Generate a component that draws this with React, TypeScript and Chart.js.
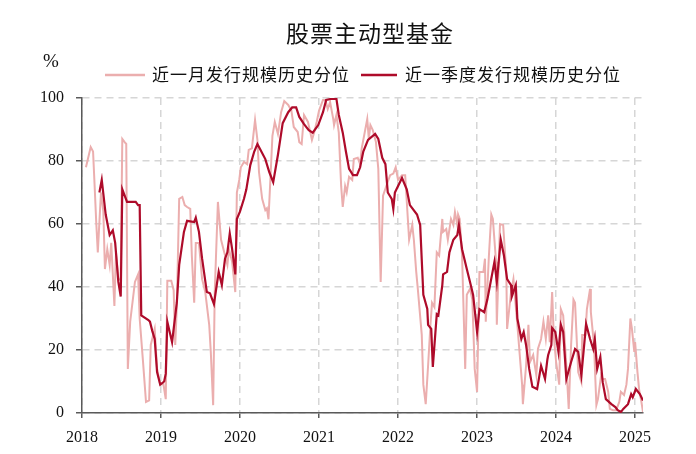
import React, { useEffect, useRef } from "react";
import { Chart, registerables } from "chart.js";

Chart.register(...registerables);

const TITLE = "股票主动型基金";
const UNIT = "%";
const SERIES_NAMES = ["近一月发行规模历史分位", "近一季度发行规模历史分位"];
const X_MIN = 2018;
const X_MAX = 2025.1;
const Y_MIN = 0;
const Y_MAX = 100;

// 近一月发行规模历史分位 (decimal year, %)
const monthX = [
  2018.05, 2018.11, 2018.14, 2018.16, 2018.18, 2018.2, 2018.24, 2018.27, 2018.29, 2018.32, 2018.35, 2018.37,
  2018.41, 2018.43, 2018.46, 2018.49, 2018.51, 2018.54, 2018.56, 2018.58, 2018.61, 2018.62, 2018.67, 2018.71,
  2018.73, 2018.77, 2018.81, 2018.85, 2018.87, 2018.92, 2018.95, 2018.99, 2019.03, 2019.06, 2019.08, 2019.13,
  2019.16, 2019.18, 2019.2, 2019.23, 2019.27, 2019.3, 2019.33, 2019.37, 2019.39, 2019.42, 2019.44, 2019.48,
  2019.52, 2019.56, 2019.61, 2019.63, 2019.66, 2019.68, 2019.72, 2019.76, 2019.8, 2019.84, 2019.86, 2019.9,
  2019.94, 2019.96, 2019.99, 2020.01, 2020.05, 2020.09, 2020.11, 2020.15, 2020.19, 2020.22, 2020.24, 2020.28,
  2020.32, 2020.34, 2020.36, 2020.38, 2020.41, 2020.44, 2020.48, 2020.52, 2020.56, 2020.61, 2020.65, 2020.68,
  2020.73, 2020.75, 2020.78, 2020.81, 2020.86, 2020.89, 2020.91, 2020.94, 2020.97, 2021.0, 2021.05, 2021.08,
  2021.11, 2021.14, 2021.18, 2021.19, 2021.22, 2021.25, 2021.28, 2021.3, 2021.33, 2021.35, 2021.38, 2021.42,
  2021.44, 2021.49, 2021.52, 2021.54, 2021.61, 2021.63, 2021.65, 2021.68, 2021.72, 2021.75, 2021.78, 2021.81,
  2021.86, 2021.9, 2021.94, 2021.97, 2022.0, 2022.05, 2022.09, 2022.14, 2022.18, 2022.2, 2022.23, 2022.25,
  2022.3, 2022.32, 2022.35, 2022.38, 2022.41, 2022.43, 2022.46, 2022.49, 2022.52, 2022.56, 2022.57, 2022.61,
  2022.63, 2022.67, 2022.7, 2022.72, 2022.75, 2022.76, 2022.78, 2022.81, 2022.85, 2022.87, 2022.91, 2022.94,
  2022.97, 2023.0, 2023.03, 2023.08, 2023.1, 2023.11, 2023.15, 2023.18, 2023.2, 2023.24, 2023.25, 2023.29,
  2023.33, 2023.37, 2023.38, 2023.43, 2023.46, 2023.51, 2023.53, 2023.57, 2023.58, 2023.62, 2023.65, 2023.67,
  2023.71, 2023.75, 2023.77, 2023.81, 2023.84, 2023.87, 2023.9, 2023.92, 2023.95, 2023.97, 2024.0, 2024.04,
  2024.06, 2024.09, 2024.13, 2024.16, 2024.19, 2024.22, 2024.24, 2024.28, 2024.32, 2024.33, 2024.37, 2024.39,
  2024.43, 2024.44, 2024.48, 2024.51, 2024.53, 2024.57, 2024.59, 2024.62, 2024.66, 2024.68, 2024.72, 2024.76,
  2024.8, 2024.82, 2024.86, 2024.89, 2024.91, 2024.94, 2024.96, 2024.99, 2025.0, 2025.03, 2025.05, 2025.08,
  2025.1,
];
const monthVals = [
  78, 84.4, 83, 72, 60.6, 51, 70, 64, 45.7, 52, 47, 54,
  34, 51, 42.5, 42.5, 87, 86, 85.4, 14, 29, 29, 41.6, 44,
  30, 17, 3.5, 4, 21.6, 26.7, 14, 9, 9.2, 4.4, 42, 42,
  39, 21.6, 34, 68, 68.6, 66, 65.4, 64.8, 50, 35, 54, 54,
  42.5, 38.4, 28, 19.4, 2.5, 38.4, 67, 55, 51, 47, 52, 48,
  38.4, 70, 74, 78, 79.7, 79, 83.5, 84, 93, 86.7, 76.5, 68,
  64.4, 65, 61.5, 72, 88, 92.4, 88.6, 95.5, 99, 97.8, 96, 90.8,
  89.2, 86, 85.4, 94.6, 92.4, 89, 86.7, 89.2, 92.4, 96, 99.4, 99.4,
  96.5, 98.7, 93.3, 91.4, 94.6, 89, 72, 65.4, 72, 70, 75, 74,
  80.6, 81, 79, 84, 93.3, 87, 91.4, 89.8, 86, 77.5, 41.6, 69,
  72.7, 75.5, 76, 78, 74, 75.5, 75.5, 55, 59.7, 55, 44.8, 39.4,
  24.8, 9, 2.8, 15, 28, 35, 33.6, 51, 50, 61.6, 57.5, 58.4,
  55, 61.6, 59.7, 63.8, 59.7, 63, 61.6, 50, 14, 37.5, 39.4, 36,
  14, 6.7, 44.8, 44.8, 49, 29, 50, 63, 61.6, 48, 28, 60,
  59.7, 44.8, 26.7, 38.4, 42.5, 28, 21.6, 9, 2.8, 15, 28, 16.2,
  18.4, 12, 20.3, 23.5, 29, 23.5, 31, 22.5, 38.4, 24.8, 16.2, 9,
  33, 31, 15, 1.3, 21.6, 36, 35, 13, 9.8, 24.8, 24.8, 33,
  39.4, 32, 21.6, 2.5, 4.4, 12, 10.8, 10.8, 6.7, 1.3, 0.9, 0.9,
  3.5, 6.7, 5.7, 9, 14, 30, 26.7, 19.4, 22.5, 13, 7.6, 3.5,
  0.3,
];

// 近一季度发行规模历史分位 (decimal year, %)
const quarterX = [
  2018.22, 2018.25, 2018.3, 2018.35, 2018.39, 2018.42, 2018.46, 2018.49, 2018.51, 2018.57, 2018.68, 2018.71,
  2018.73, 2018.75, 2018.84, 2018.86, 2018.89, 2018.92, 2018.95, 2018.99, 2019.04, 2019.06, 2019.08, 2019.14,
  2019.2, 2019.23, 2019.29, 2019.33, 2019.42, 2019.44, 2019.48, 2019.52, 2019.58, 2019.62, 2019.67, 2019.73,
  2019.77, 2019.81, 2019.84, 2019.87, 2019.9, 2019.94, 2019.96, 2020.0, 2020.05, 2020.08, 2020.13, 2020.18,
  2020.22, 2020.25, 2020.32, 2020.37, 2020.42, 2020.48, 2020.54, 2020.61, 2020.66, 2020.71, 2020.75, 2020.81,
  2020.87, 2020.92, 2020.99, 2021.05, 2021.09, 2021.15, 2021.22, 2021.25, 2021.3, 2021.34, 2021.38, 2021.43,
  2021.48, 2021.52, 2021.56, 2021.62, 2021.71, 2021.75, 2021.8, 2021.84, 2021.87, 2021.92, 2021.94, 2021.96,
  2022.05, 2022.11, 2022.15, 2022.24, 2022.28, 2022.32, 2022.37, 2022.38, 2022.42, 2022.44, 2022.49, 2022.51,
  2022.56, 2022.57, 2022.62, 2022.65, 2022.7, 2022.75, 2022.77, 2022.81, 2022.87, 2022.92, 2022.95, 2023.0,
  2023.03, 2023.09, 2023.13, 2023.22, 2023.25, 2023.3, 2023.34, 2023.38, 2023.43, 2023.44, 2023.49, 2023.51,
  2023.56, 2023.59, 2023.62, 2023.66, 2023.7, 2023.76, 2023.81, 2023.86, 2023.89, 2023.9, 2023.94, 2023.95,
  2023.99, 2024.03, 2024.06, 2024.09, 2024.13, 2024.19, 2024.24, 2024.28, 2024.32, 2024.38, 2024.43, 2024.47,
  2024.49, 2024.52, 2024.56, 2024.59, 2024.63, 2024.7, 2024.75, 2024.78, 2024.82, 2024.85, 2024.91, 2024.95,
  2024.97, 2025.01, 2025.06, 2025.1,
];
const quarterVals = [
  70, 74, 63, 56.5, 58, 54, 41.6, 37, 71, 67, 67, 66,
  66, 31, 29.5, 29, 26, 23.5, 13, 9, 10, 12.5, 29, 22.5,
  35, 47, 57.5, 61, 60.6, 62, 57.5, 49, 38.4, 38, 34.6, 44.8,
  40.6, 49, 51, 57, 52, 44, 61.6, 64, 68, 71, 78.7, 83,
  85.4, 84, 80.6, 76.5, 73.3, 82, 92, 95.5, 97, 97, 94, 91.7,
  89.8, 89, 91.4, 95.5, 99.4, 99.7, 99.7, 94.6, 89, 83, 77.5, 75.5,
  75.5, 78, 83, 86.7, 88.6, 87, 81, 79, 70, 68, 64.8, 70,
  74.6, 71, 66, 63, 59.7, 37.5, 33, 28, 26.7, 14.6, 31.4, 31,
  40.6, 44, 44.8, 51, 55, 56.5, 59.7, 52, 45.7, 40.6, 37.5, 25.7,
  33, 32, 36, 48, 41.6, 55, 50, 42.5, 40.6, 37, 40.6, 30,
  23.5, 25.7, 21.6, 14, 8.3, 7.6, 15, 10.8, 17, 18.4, 21.6, 27,
  25.7, 19.4, 28, 25.7, 10.8, 16.2, 20.3, 19.4, 12, 28.3, 23.5, 20.3,
  23.5, 14, 17.8, 9.8, 4.4, 2.8, 1.9, 0.9, 0.3, 1.3, 2.8, 6,
  5, 7.6, 6, 4,
];

const LIGHT = "#EBAEAE";
const DARK = "#AE0B2A";
const GRID = "#D6D6D6";
const AXIS = "#5A5A5A";

const textPlugin = {
  id: "textOverlay",
  afterDraw(chart: any) {
    const ctx = chart.ctx;
    ctx.save();
    ctx.fillStyle = "#111";
    ctx.textBaseline = "middle";
    ctx.textAlign = "center";
    ctx.font = '23px "Noto Sans CJK SC"';
    (ctx as any).letterSpacing = "1px";
    ctx.fillText(TITLE, 370, 33);
    (ctx as any).letterSpacing = "0px";
    ctx.font = '19px "Liberation Serif"';
    ctx.fillText(UNIT, 51, 62);
    // legend
    const items = [
      { x0: 105, x1: 145, tx: 152 },
      { x0: 361, x1: 397, tx: 405 },
    ];
    chart.data.datasets.forEach((ds: any, i: number) => {
      const it = items[i];
      ctx.strokeStyle = ds.borderColor;
      ctx.lineWidth = 2.5;
      ctx.beginPath();
      ctx.moveTo(it.x0, 75);
      ctx.lineTo(it.x1, 75);
      ctx.stroke();
      ctx.textAlign = "left";
      ctx.fillStyle = "#111";
      ctx.font = '17px "Noto Sans CJK SC"';
      (ctx as any).letterSpacing = "1px";
      ctx.fillText(ds.label, it.tx, 75);
    });
    ctx.restore();
  },
};

export default function App() {
  const ref = useRef<HTMLCanvasElement | null>(null);
  useEffect(() => {
    if (!ref.current) return;
    const tickFont = { family: "Liberation Serif", size: 16 };
    const chart = new Chart(ref.current, {
      type: "line",
      data: {
        datasets: [
          {
            label: SERIES_NAMES[0],
            data: monthX.map((x, i) => ({ x, y: monthVals[i] })),
            borderColor: LIGHT,
            backgroundColor: LIGHT,
            borderWidth: 2,
            pointRadius: 0,
            tension: 0,
            order: 1,
          },
          {
            label: SERIES_NAMES[1],
            data: quarterX.map((x, i) => ({ x, y: quarterVals[i] })),
            borderColor: DARK,
            backgroundColor: DARK,
            borderWidth: 2.2,
            pointRadius: 0,
            tension: 0,
            order: 0,
          },
        ],
      },
      options: {
        animation: false,
        responsive: true,
        maintainAspectRatio: false,
        layout: { padding: { top: 98, right: 53, left: 0, bottom: 0 } },
        plugins: {
          legend: { display: false },
          title: { display: false },
          tooltip: { enabled: false },
        },
        scales: {
          x: {
            type: "linear",
            min: X_MIN,
            max: X_MAX,
            afterFit: (s: any) => {
              s.height = 41;
            },
            ticks: {
              stepSize: 1,
              includeBounds: false,
              autoSkip: false,
              maxRotation: 0,
              padding: 10,
              color: "#111",
              font: tickFont,
              callback: (v: any) => String(v),
            },
            grid: {
              color: GRID,
              lineWidth: 1.5,
              tickLength: 5,
              tickColor: AXIS,
              tickWidth: 1.5,
            },
            border: { color: AXIS, width: 1.5, dash: [7, 5] },
          },
          y: {
            min: Y_MIN,
            max: Y_MAX,
            afterFit: (s: any) => {
              s.width = 82;
            },
            ticks: {
              stepSize: 20,
              padding: 12,
              color: "#111",
              font: tickFont,
            },
            grid: {
              color: GRID,
              lineWidth: 1.5,
              tickLength: 6,
              tickColor: AXIS,
              tickWidth: 1.5,
            },
            border: { color: AXIS, width: 1.5, dash: [7, 5] },
          },
        },
      },
      plugins: [textPlugin],
    } as any);
    return () => chart.destroy();
  }, []);
  return (
    <div style={{ position: "absolute", left: 0, top: 0, width: 696, height: 454 }}>
      <canvas ref={ref} />
    </div>
  );
}
